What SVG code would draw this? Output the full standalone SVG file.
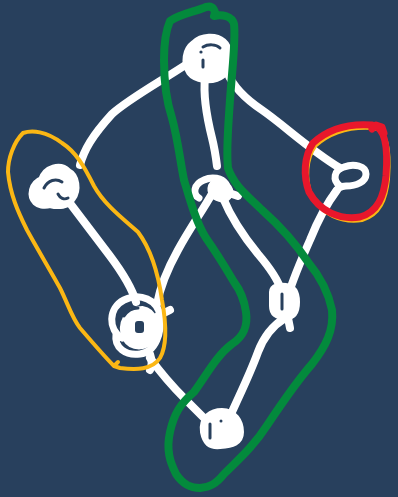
<svg xmlns="http://www.w3.org/2000/svg" width="398" height="497" viewBox="0 0 398 497">
  <style>
    .edge { fill: none; stroke: #ffffff; stroke-width: 8; stroke-linecap: round; stroke-linejoin: round; }
    .blob { fill: #ffffff; stroke: #ffffff; stroke-width: 8; stroke-linecap: round; stroke-linejoin: round; }
    .ring { fill: none; stroke: #ffffff; stroke-width: 7; stroke-linecap: round; stroke-linejoin: round; }
    .mark { fill: none; stroke: #28405d; stroke-width: 3; stroke-linecap: round; }
    .hole { fill: #28405d; stroke: none; }
    .loop { fill: none; stroke-linecap: round; stroke-linejoin: round; }
    .green { stroke: #038a3c; stroke-width: 8; }
    .orange { stroke: #fbb714; stroke-width: 4; }
    .red { stroke: #e8172b; stroke-width: 7; }
  </style>

  <rect width="398" height="497" fill="#28405d"/>

  <!-- connectors -->
  <g id="connectors">
    <path class="edge" d="M80,165 C84,150 92,136 112,114 C130,98 160,82 190,62"/>
    <path class="edge" d="M227,72 C232,84 244,98 262,110 C285,126 310,150 340,168"/>
    <path class="edge" d="M205,78 C203,96 207,118 212,138 C215,150 216,158 217,166"/>
    <path class="edge" d="M213,192 C203,210 190,228 178,250 C168,268 160,288 157,304"/>
    <path class="edge" d="M223,198 C230,215 240,232 258,254 C270,268 278,280 281,290"/>
    <path class="edge" d="M337,190 C328,202 318,220 310,240 C302,258 294,276 288,296"/>
    <path class="edge" d="M285,318 C272,326 264,336 258,352 C250,374 240,394 232,412"/>
    <path class="edge" d="M66,198 C78,214 92,232 110,256 C122,272 132,288 136,302"/>
    <path class="edge" d="M150,358 C160,372 170,384 186,400 C194,408 200,414 206,420"/>
  </g>

  <!-- nodes -->
  <g id="node-top">
    <path class="blob" d="M190,72 C184,62 186,50 194,44 C202,36 216,36 223,42 C230,48 230,62 226,70 C222,78 212,80 204,79 C198,78 193,76 190,72 Z"/>
    <path class="mark" d="M203,47 C208,44 216,44 220,48"/>
    <path class="mark" d="M203,60 L203,67"/>
    <circle class="hole" cx="201" cy="52" r="1.6"/>
  </g>

  <g id="node-left">
    <path class="blob" d="M36,202 C30,196 32,184 42,180 C46,168 60,164 68,172 C76,176 78,190 72,198 C68,206 58,206 50,204 C44,206 38,204 36,202 Z"/>
    <path class="mark" d="M44,188 C48,180 56,178 62,182"/>
    <path class="mark" d="M58,194 C60,198 64,200 68,198"/>
  </g>

  <g id="node-right">
    <path class="ring" d="M340,186 C332,180 334,170 344,167 C354,163 366,166 366,174 C366,182 356,186 346,186 C340,186 336,190 334,194"/>
    <path class="hole" d="M342,177 L358,170 L354,181 Z"/>
  </g>

  <g id="node-center">
    <path class="ring" d="M199,198 C192,194 194,184 204,180 C212,176 222,178 226,184"/>
    <path class="blob" d="M212,186 C214,180 224,182 228,188 C232,194 226,200 220,198 C214,196 210,192 212,186 Z"/>
    <path class="edge" d="M232,194 L238,196"/>
  </g>

  <g id="node-midright">
    <path class="blob" d="M273,292 C273,287 280,286 286,287 C294,288 296,294 296,302 C296,310 294,316 286,316 C278,316 273,314 273,306 Z"/>
    <path class="mark" d="M282,294 L282,309"/>
    <path class="edge" d="M288,318 L290,328"/>
  </g>

  <g id="node-lowerleft">
    <path class="ring" d="M122,338 C108,330 108,308 124,300 C140,292 158,300 160,316 C162,332 156,352 140,354 C126,356 114,348 116,334"/>
    <path class="blob" d="M126,338 C120,324 128,310 142,310 C154,312 158,326 152,338 C146,348 132,348 126,338 Z"/>
    <rect class="hole" x="135" y="321" width="9" height="12" rx="3"/>
    <path class="mark" d="M124,316 C128,310 134,308 138,308"/>
    <path class="edge" d="M158,316 L170,310"/>
    <path class="edge" d="M150,354 C152,360 152,366 150,370"/>
  </g>

  <g id="node-bottom">
    <path class="blob" d="M204,432 C202,418 212,412 222,412 C234,412 240,422 240,432 C240,442 232,444 220,445 C210,446 206,442 204,432 Z"/>
    <path class="mark" d="M210,424 L210,438"/>
    <circle class="hole" cx="221" cy="421" r="1.5"/>
  </g>

  <!-- highlight loops -->
  <g id="group-orange">
    <path class="loop orange" d="M118,362 L114,366 C104,356 92,342 80,328 C72,318 68,304 60,288 C50,270 38,250 27,230 C18,212 10,194 8,172 C8,158 14,142 23,133 C32,130 46,131 62,143 C76,152 84,166 94,186 C104,204 122,218 138,232 C150,248 158,272 162,300 C166,322 168,344 160,358 C152,370 136,370 120,368 L114,366"/>
  </g>

  <g id="group-red">
    <path class="loop orange" transform="translate(2,3)" d="M313,143 C326,131 346,123 372,125 C386,127 388,150 386,176 C384,196 378,212 360,217 C340,220 320,212 309,192 C303,176 304,156 313,143 Z"/>
    <path class="loop red" d="M313,143 C326,131 346,123 372,125 C386,127 388,150 386,176 C384,196 378,212 360,217 C340,220 320,212 309,192 C303,176 304,156 313,143 Z"/>
    <path class="loop red" d="M372,129 L376,125 L382,127 L384,133"/>
  </g>

  <g id="group-green">
    <path class="loop green" d="M170,21 C180,14 194,12 206,7 C214,5 216,12 214,16 C222,14 232,16 234,24 C236,40 232,70 230,100 C228,130 226,150 228,168 C234,186 248,196 262,210 C280,226 296,244 308,262 C318,274 328,290 332,310 C334,330 326,346 312,364 C298,380 284,400 268,424 C254,446 238,460 224,474 C216,484 210,487 200,488 C192,488 184,486 176,474 C170,462 166,450 170,432 C174,414 180,404 194,392 C206,376 216,356 232,344 C244,336 248,326 246,312 C244,298 240,290 234,282 C228,272 220,258 206,238 C196,222 190,200 184,180 C180,160 178,140 172,118 C166,100 164,80 164,60 C164,44 166,30 170,21 Z"/>
  </g>
</svg>
